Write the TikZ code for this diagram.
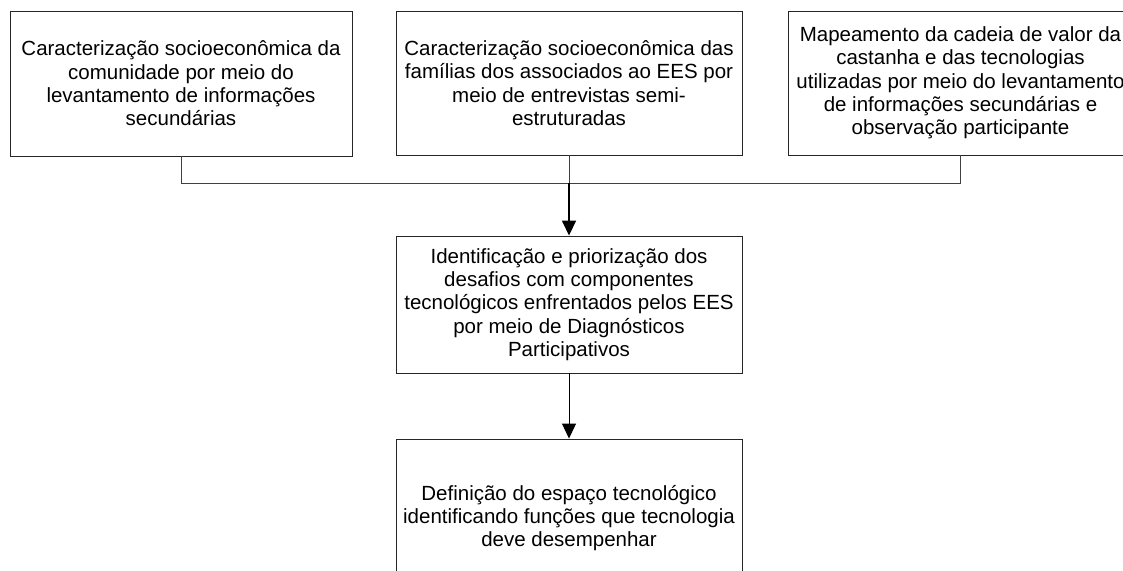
\documentclass[tikz,border=0pt]{standalone}
\usepackage{fontspec}
\setmainfont{Liberation Sans}
\usetikzlibrary{arrows.meta}
\begin{document}
\begin{tikzpicture}[x=1pt,y=-1pt,
  box/.style={draw=black!85, line width=0.9pt, rectangle, align=center, inner sep=0pt,
    font=\fontsize{20.5pt}{23.3pt}\selectfont, text=black},
  conn/.style={draw=black!75, line width=0.9pt},
  arr/.style={draw=black, line width=1pt, -{Triangle[length=15pt,width=14pt]}}]
\useasboundingbox (0,0) rectangle (1123,570);
\node[box, minimum width=342pt, minimum height=145pt] (b1) at (181,83.5)
  {Caracterização socioeconômica da\\comunidade por meio do\\levantamento de informações\\secundárias};
\node[box, minimum width=346pt, minimum height=144pt] (b2) at (569,83)
  {Caracterização socioeconômica das\\famílias dos associados ao EES por\\meio de entrevistas semi-\\estruturadas};
\node[box, minimum width=345pt, minimum height=144pt] (b3) at (960.5,83)
  {Mapeamento da cadeia de valor da\\castanha e das tecnologias\\utilizadas por meio do levantamento\\de informações secundárias e\\observação participante};
\node[box, minimum width=346pt, minimum height=137pt] (m) at (569,304.5)
  {Identificação e priorização dos\\desafios com componentes\\tecnológicos enfrentados pelos EES\\por meio de Diagnósticos\\Participativos};
\node[box, minimum width=346pt, minimum height=158pt] (d) at (569,518)
  {Definição do espaço tecnológico\\identificando funções que tecnologia\\deve desempenhar};
\coordinate (j) at (181,183);
\coordinate (k) at (569,183);
\draw[conn] (b1.south) -- (j) -| (b3.south);
\draw[conn] (b2.south) -- (k);
\draw[arr, line width=1.6pt] (k) -- (m.north);
\draw[arr] (m.south) -- (d.north);
\end{tikzpicture}
\end{document}
